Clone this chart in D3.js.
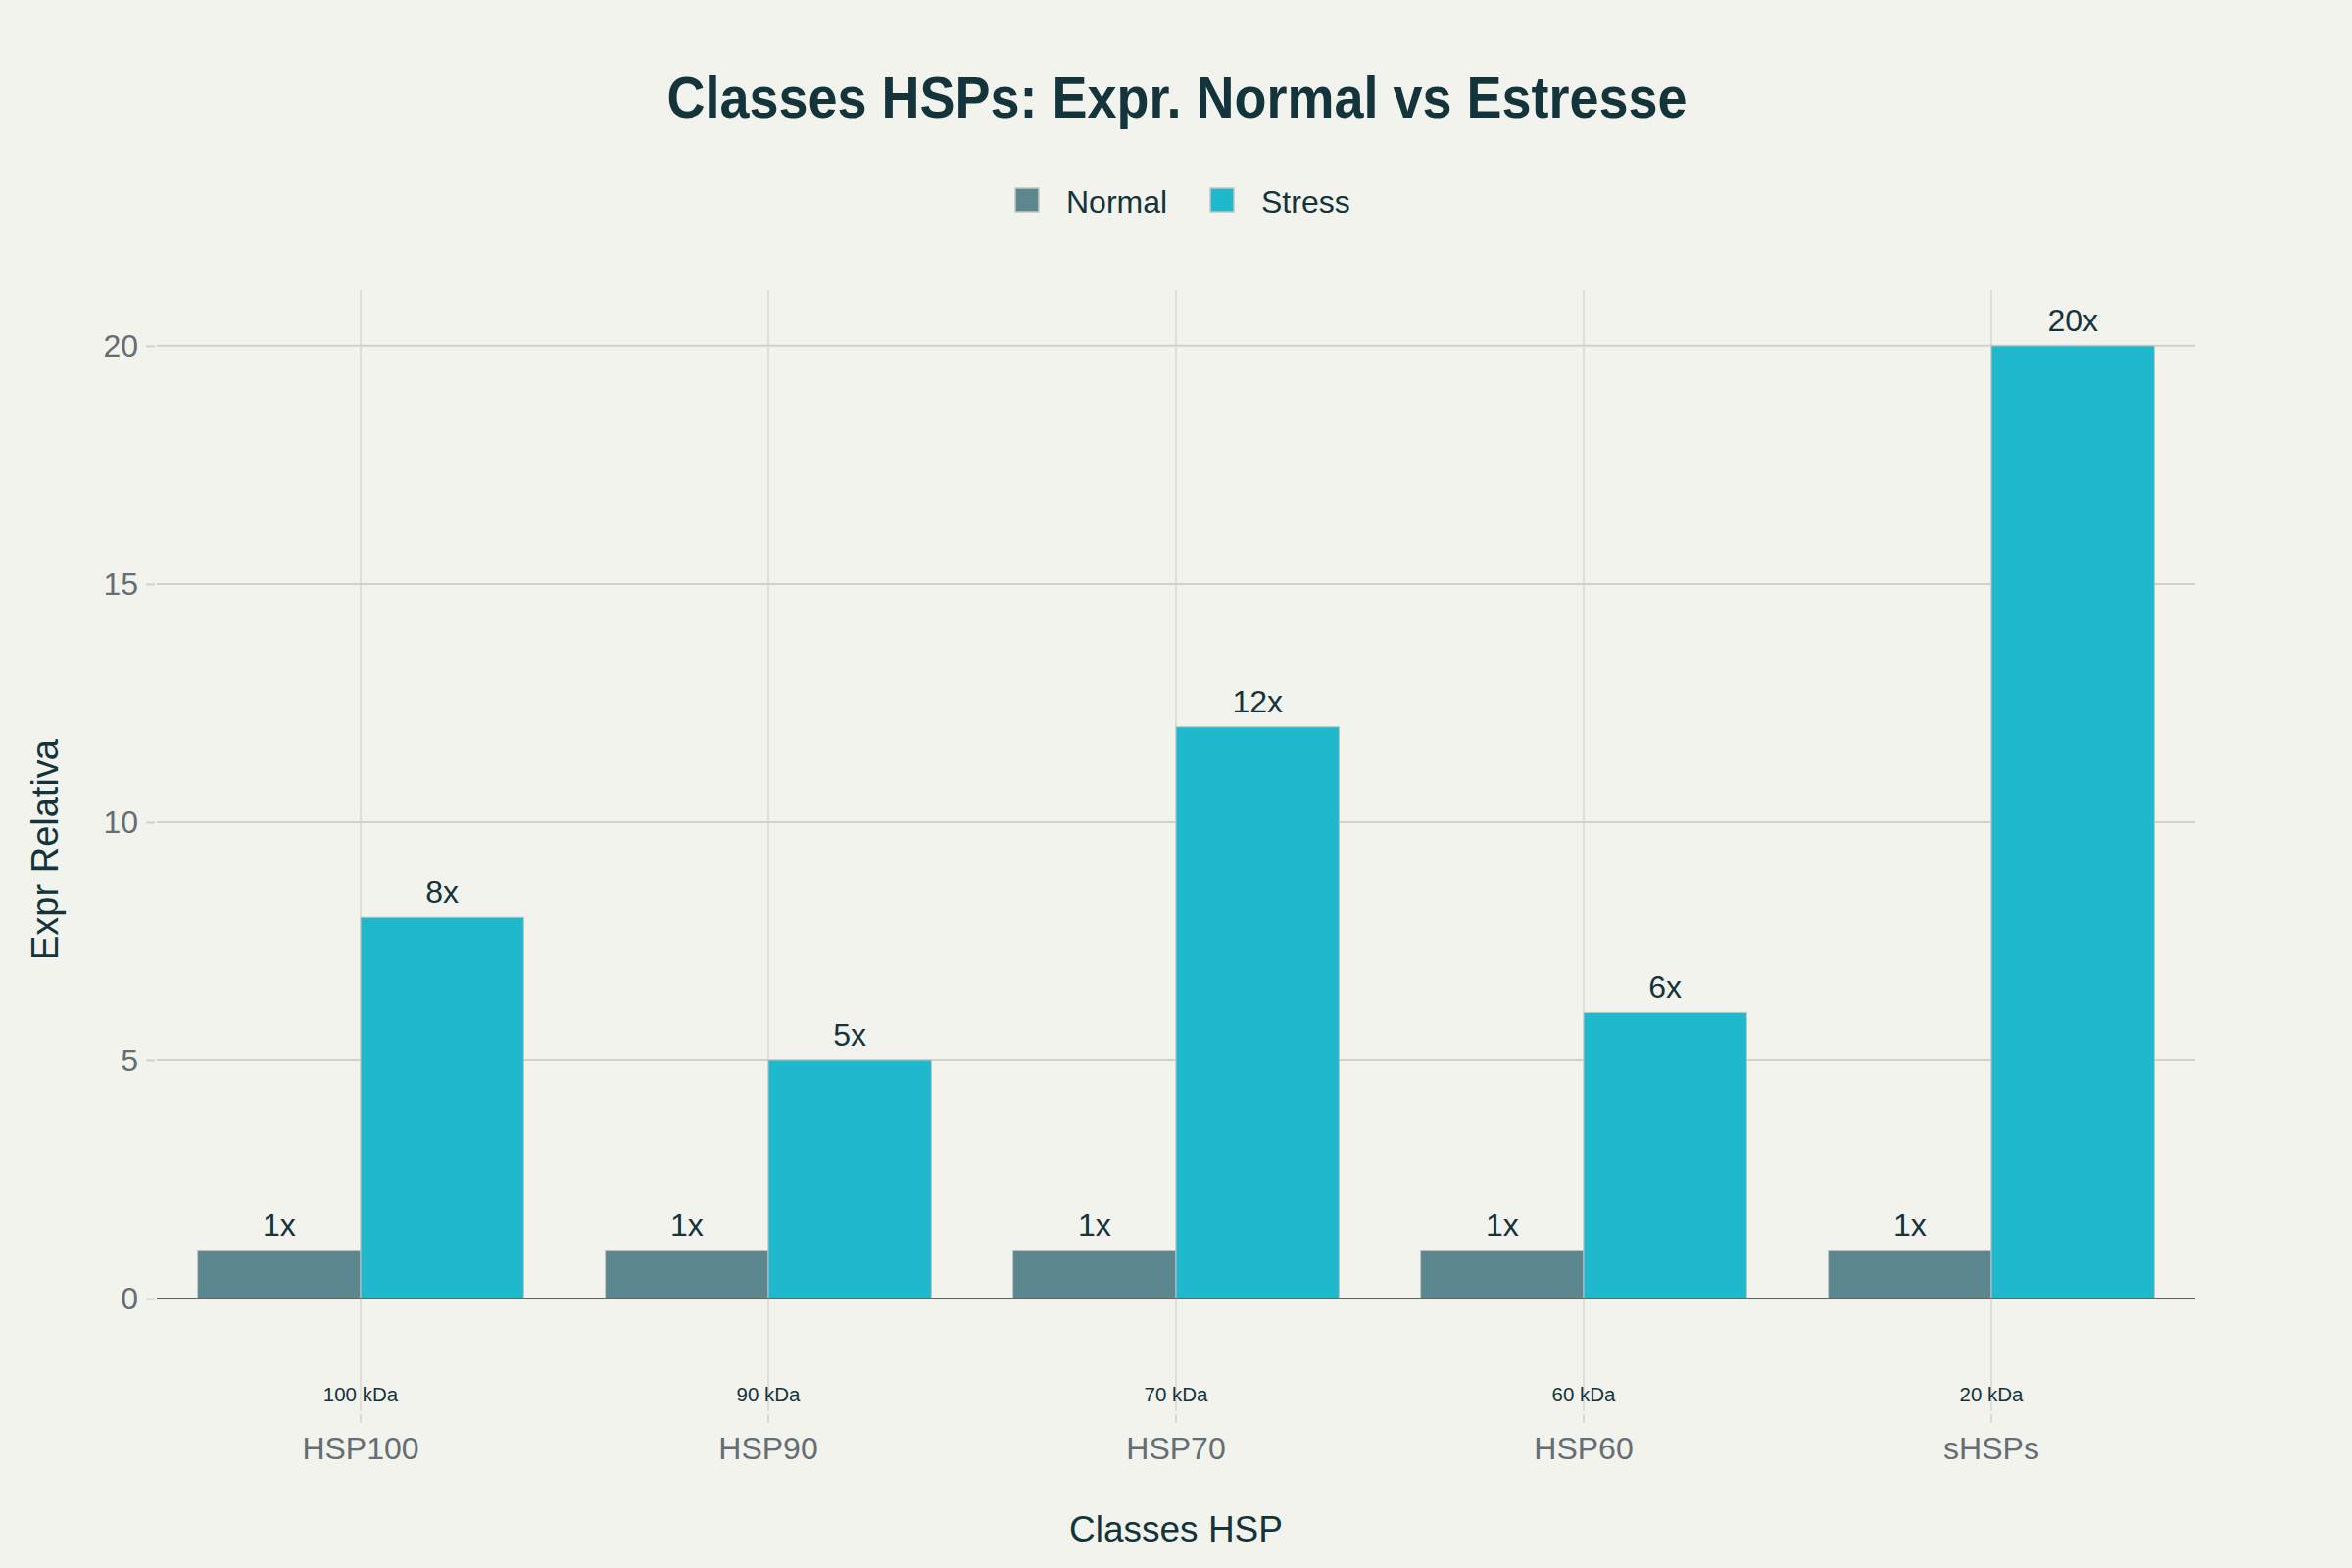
<!DOCTYPE html>
<html>
<head>
<meta charset="utf-8">
<script src="https://cdn.jsdelivr.net/npm/d3@7"></script>
<style>
  html, body { margin: 0; padding: 0; background: #F3F3EE; }
  svg { display: block; }
</style>
</head>
<body>
<svg id="chart" width="2400" height="1600"></svg>
<script>
// ---- data ----
const categories = ["HSP100", "HSP90", "HSP70", "HSP60", "sHSPs"];
const molecularWeights = ["100 kDa", "90 kDa", "70 kDa", "60 kDa", "20 kDa"];
const seriesNames = ["Normal", "Stress"];
const normalValues = [1, 1, 1, 1, 1];
const stressValues = [8, 5, 12, 6, 20];
const yTicks = [0, 5, 10, 15, 20];
const titleText = "Classes HSPs: Expr. Normal vs Estresse";
const xTitle = "Classes HSP";
const yTitle = "Expr Relativa";

// ---- layout ----
const W = 2400, H = 1600;
const plot = { left: 160, right: 2240, top: 296, bottom: 1440 };
const colors = { Normal: "#5D878F", Stress: "#1FB8CD" };
const bg = "#F3F3EE", dark = "#13343B", tickGray = "#646E73", grid = "#D3D0CA";
const font = "'Liberation Sans', Arial, Helvetica, sans-serif";

const svg = d3.select("#chart");
svg.append("rect").attr("width", W).attr("height", H).attr("fill", bg);

const x0 = d3.scaleBand().domain(categories).range([plot.left, plot.right]).paddingInner(0).paddingOuter(0);
const x1 = d3.scaleBand().domain(seriesNames).range([0, x0.bandwidth()]).paddingInner(0).paddingOuter(0.25);
const y = d3.scaleLinear().domain([-2.365, 21.17]).range([plot.bottom, plot.top]);

// horizontal gridlines
svg.append("g").selectAll("line").data(yTicks.filter(d => d !== 0)).join("line")
  .attr("x1", plot.left).attr("x2", plot.right)
  .attr("y1", d => y(d)).attr("y2", d => y(d))
  .attr("stroke", grid).attr("stroke-width", 2);

// vertical gridlines
svg.append("g").selectAll("line").data(categories).join("line")
  .attr("x1", d => x0(d) + x0.bandwidth() / 2).attr("x2", d => x0(d) + x0.bandwidth() / 2)
  .attr("y1", plot.top).attr("y2", plot.bottom)
  .attr("stroke", grid).attr("stroke-width", 1.2);

// y axis (ticks + labels)
const yAxis = d3.axisLeft(y).tickValues(yTicks).tickSize(9).tickPadding(8).tickFormat(d3.format("d"));
const yg = svg.append("g").attr("transform", `translate(${plot.left - 2},0)`).call(yAxis);
yg.select(".domain").remove();
yg.selectAll(".tick line").attr("stroke", grid).attr("stroke-width", 2);
yg.selectAll(".tick text").attr("fill", tickGray).attr("font-family", font).attr("font-size", 32);

// x axis (ticks + labels)
const xAxis = d3.axisBottom(x0).tickSize(9).tickPadding(14);
const xg = svg.append("g").attr("transform", `translate(0,${plot.bottom + 3})`).call(xAxis);
xg.select(".domain").remove();
xg.selectAll(".tick line").attr("stroke", grid).attr("stroke-width", 1.5);
xg.selectAll(".tick text").attr("fill", tickGray).attr("font-family", font).attr("font-size", 32)
  .attr("dy", "0.71em");

// bars
const rows = categories.map((c, i) => ({ cat: c, vals: [
  { s: "Normal", v: normalValues[i] }, { s: "Stress", v: stressValues[i] } ] }));

const groups = svg.append("g").selectAll("g").data(rows).join("g")
  .attr("transform", d => `translate(${x0(d.cat)},0)`);

groups.selectAll("rect").data(d => d.vals).join("rect")
  .attr("x", d => x1(d.s)).attr("width", x1.bandwidth())
  .attr("y", d => y(d.v)).attr("height", d => y(0) - y(d.v))
  .attr("fill", d => colors[d.s])
  .attr("stroke", "#C4C6C0").attr("stroke-width", 1);

groups.selectAll("text").data(d => d.vals).join("text")
  .attr("x", d => x1(d.s) + x1.bandwidth() / 2)
  .attr("y", d => y(d.v) - 15)
  .attr("text-anchor", "middle")
  .attr("fill", dark).attr("font-family", font).attr("font-size", 32)
  .text(d => d.v + "x");

// zero line
svg.append("line").attr("x1", plot.left).attr("x2", plot.right)
  .attr("y1", y(0)).attr("y2", y(0)).attr("stroke", "#666666").attr("stroke-width", 2);

// molecular weight annotations
svg.append("g").selectAll("text").data(categories).join("text")
  .attr("x", d => x0(d) + x0.bandwidth() / 2)
  .attr("y", 1430)
  .attr("text-anchor", "middle")
  .attr("fill", dark).attr("font-family", font).attr("font-size", 20.5)
  .text((d, i) => molecularWeights[i]);

// title
svg.append("text").attr("x", 1201).attr("y", 120).attr("text-anchor", "middle")
  .attr("fill", dark).attr("font-family", font).attr("font-weight", "bold").attr("font-size", 60)
  .attr("textLength", 1041).attr("lengthAdjust", "spacingAndGlyphs")
  .text(titleText);

// legend
const legend = svg.append("g");
const legendItems = [ { name: "Normal", sx: 1036, tx: 1088 }, { name: "Stress", sx: 1235, tx: 1287 } ];
legend.selectAll("rect").data(legendItems).join("rect")
  .attr("x", d => d.sx).attr("y", 192).attr("width", 24).attr("height", 24)
  .attr("fill", d => colors[d.name]).attr("stroke", "#C4C6C0").attr("stroke-width", 1.5);
legend.selectAll("text").data(legendItems).join("text")
  .attr("x", d => d.tx).attr("y", 216.5)
  .attr("fill", dark).attr("font-family", font).attr("font-size", 32)
  .text(d => d.name);

// axis titles
svg.append("text").attr("x", 1200).attr("y", 1573).attr("text-anchor", "middle")
  .attr("fill", dark).attr("font-family", font).attr("font-size", 37)
  .text(xTitle);
svg.append("text").attr("transform", "translate(59,867) rotate(-90)").attr("text-anchor", "middle")
  .attr("fill", dark).attr("font-family", font).attr("font-size", 38)
  .text(yTitle);
</script>
</body>
</html>
